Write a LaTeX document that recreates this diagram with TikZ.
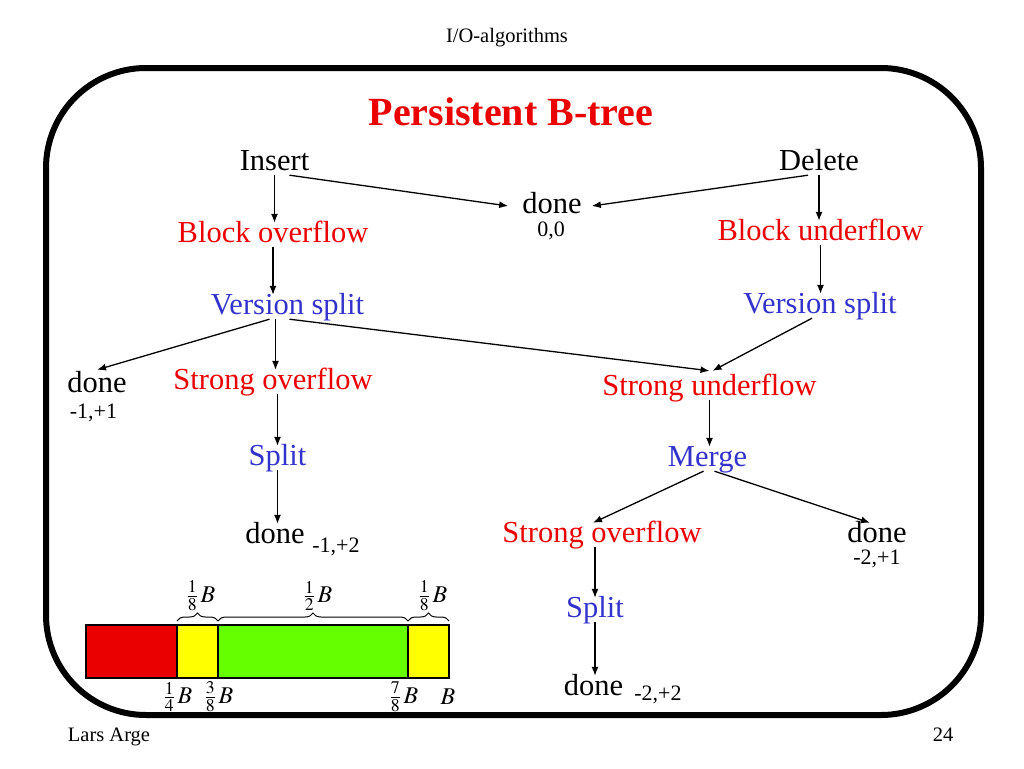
\documentclass[tikz,border=0pt]{standalone}
\usepackage{mathptmx}
\usepackage{fontspec}
\setmainfont{Liberation Serif}
\usetikzlibrary{arrows.meta,decorations.pathreplacing}
\definecolor{flowred}{RGB}{235,0,0}
\definecolor{flowblue}{RGB}{51,51,204}
\definecolor{blockgreen}{RGB}{102,255,0}
\definecolor{blockyellow}{RGB}{255,255,0}
\tikzset{
  res/.style={anchor=base, inner sep=0pt, text height=19pt, text depth=5pt, font=\fontsize{30.5}{36}\selectfont},
  cond/.style={res, text=flowred},
  act/.style={res, text=flowblue},
  cnt/.style={anchor=base, inner sep=0pt, font=\fontsize{22}{26}\selectfont},
  frac/.style={inner sep=0pt, font=\fontsize{24}{28}\selectfont},
  arr/.style={-{Latex[length=9pt,width=7pt]}, line width=1.3pt}
}

\begin{document}
\begin{tikzpicture}[x=1pt, y=-1pt]
\useasboundingbox (0,0) rectangle (1024,768);
\draw [line width=6pt, rounded corners=100pt] (46,68) rectangle (981,715);

\node[anchor=base, font=\fontsize{20.5}{24}\selectfont] (hdr) at (507,42) {I/O-algorithms};
\node[anchor=base, font=\fontsize{20.5}{24}\selectfont] (auth) at (109,741) {Lars Arge};
\node[anchor=base, font=\fontsize{20.5}{24}\selectfont] (page) at (943,741) {24};
\node[anchor=base, font=\fontsize{40}{48}\selectfont\bfseries, text=flowred] (ttl) at (511,125) {Persistent B-tree};

% insert / delete
\node[res] (ins) at (274.5,170) {Insert};
\node[res] (del) at (819,170) {Delete};
\node[res] (dn0) at (552,213) {done};
\node[cnt] (c0) at (551,236) {0,0};
\node[cond] (bov) at (273,242) {Block overflow};
\node[cond] (bun) at (820.5,240) {Block underflow};
\node[act] (vsl) at (287.5,314) {Version split};
\node[act] (vsr) at (820,313) {Version split};

% left branch
\node[res] (dnl) at (97,392) {done};
\node[cnt] (cl) at (93.5,418) {-1,+1};
\node[cond] (sol) at (273,389) {Strong overflow};
\node[act] (spl) at (277.5,465) {Split};
\node[res] (dnll) at (275,543) {done};
\node[cnt] (cll) at (336,552) {-1,+2};

% right branch
\node[cond] (sun) at (709.5,395) {Strong underflow};
\node[act] (mrg) at (707.5,466) {Merge};
\node[cond] (sor) at (602,542) {Strong overflow};
\node[res] (dnr) at (877,542) {done};
\node[cnt] (cr) at (877,564) {-2,+1};
\node[act] (spr) at (595,617) {Split};
\node[res] (dnrr) at (593.5,695) {done};
\node[cnt] (crr) at (658,700) {-2,+2};

\draw [arr] ([xshift=15pt]ins.south) -- ([xshift=-14pt]dn0.west);
\draw [arr] ([xshift=-11pt]del.south) -- ([xshift=10pt]dn0.east);
\draw [arr] (ins.south) -- (ins.south |- bov.north);
\draw [arr] (del.south) -- (del.south |- bun.north);
\draw [arr] (bov.south) -- (bov.south |- vsl.north);
\draw [arr] (bun.south) -- (bun.south |- vsr.north);
\draw [arr] ([xshift=-18pt]vsl.south) -- ([yshift=3pt]dnl.north);
\draw [arr] ([xshift=-12pt]vsl.south) -- ([xshift=-12pt]vsl.south |- sol.north);
\draw [arr] ([xshift=2pt]vsl.south) -- ([yshift=5pt]sun.north);
\draw [arr] ([xshift=-8pt]vsr.south) -- ([shift={(3pt,5pt)}]sun.north);
\draw [arr] (spl.north |- sol.south) -- (spl.north);
\draw [arr] (spl.south) -- (spl.south |- dnll.north);
\draw [arr] (sun.south) -- (sun.south |- mrg.north);
\draw [arr] ([xshift=-4pt]mrg.south) -- ([xshift=-9pt]sor.north);
\draw [arr] ([xshift=7pt]mrg.south) -- ([xshift=-7pt]dnr.north);
\draw [arr] (spr.north |- sor.south) -- (spr.north);
\draw [arr] (spr.south) -- (spr.south |- dnrr.north);

% block picture
\foreach \a/\b/\c in {86/177/flowred, 177/218/blockyellow, 218/408/blockgreen, 408/449/blockyellow}
  \draw [line width=1.5pt, fill=\c] (\a,625) rectangle (\b,678);
\draw [line width=1pt, decorate, decoration={brace, amplitude=8pt}] (177,621) -- (218,621);
\draw [line width=1pt, decorate, decoration={brace, amplitude=8pt}] (218,621) -- (408,621);
\draw [line width=1pt, decorate, decoration={brace, amplitude=8pt}] (408,621) -- (449,621);
\node[frac] (fa) at (201,596) {$\frac{1}{8}\,B$};
\node[frac] (fb) at (318,596) {$\frac{1}{2}\,B$};
\node[frac] (fc) at (433,596) {$\frac{1}{8}\,B$};
\node[frac] (fd) at (178,697) {$\frac{1}{4}\,B$};
\node[frac] (fe) at (219,697) {$\frac{3}{8}\,B$};
\node[frac] (ff) at (404,697) {$\frac{7}{8}\,B$};
\node[frac] (fg) at (448,697) {$B$};
\end{tikzpicture}
\end{document}
